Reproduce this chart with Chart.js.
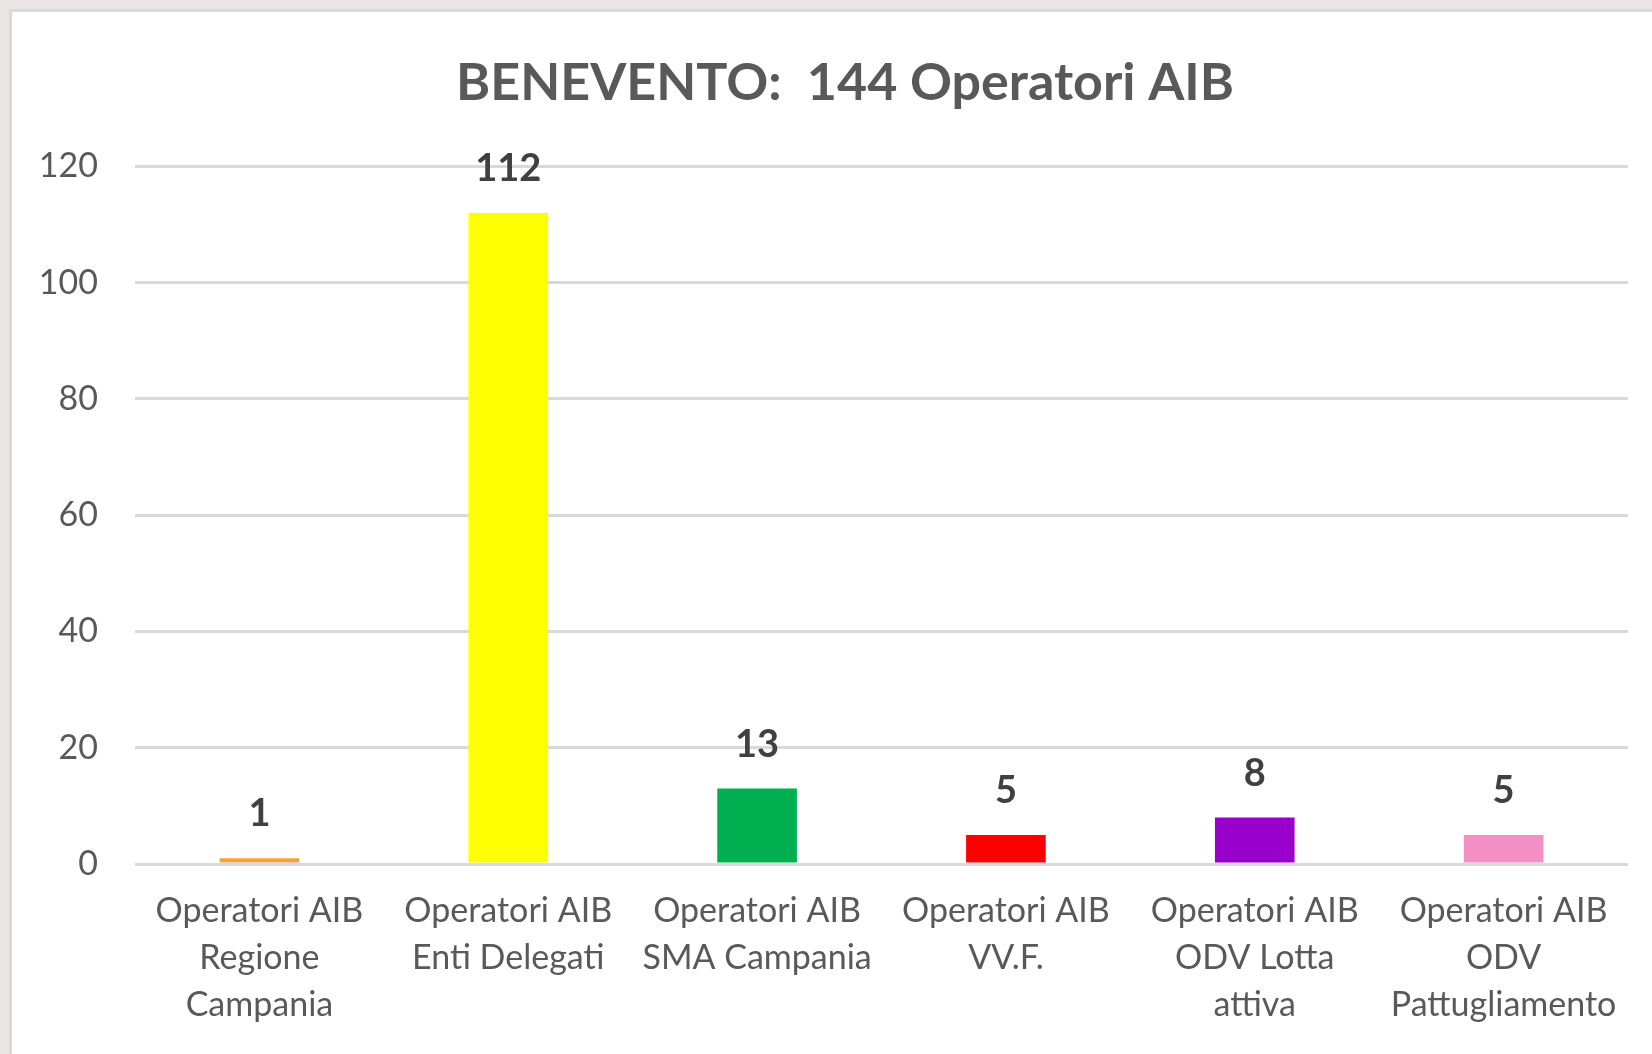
<!DOCTYPE html>
<html>
<head>
<meta charset="utf-8">
<script src="https://cdn.jsdelivr.net/npm/chart.js@4"></script>
<style>
  html, body { margin: 0; padding: 0; overflow: hidden; }
  body { width: 1652px; height: 1054px; background: #ece5e5; position: relative; }
  .frame {
    position: absolute; left: 9px; top: 9px; width: 1660px; height: 1060px;
    background: #fff; border: 3px solid #d9d9d9; box-sizing: border-box;
  }
  .wrap { position: absolute; left: 0; top: 0; width: 1652px; height: 1054px; }
</style>
</head>
<body>
<div class="frame"></div>
<div class="wrap"><canvas id="myChart" width="1652" height="1054"></canvas></div>
<script>
// chart data
const categories = [
  ["Operatori AIB", "Regione", "Campania"],
  ["Operatori AIB", "Enti Delegati"],
  ["Operatori AIB", "SMA Campania"],
  ["Operatori AIB", "VV.F."],
  ["Operatori AIB", "ODV Lotta", "attiva"],
  ["Operatori AIB", "ODV", "Pattugliamento"]
];
const operatori = [1, 112, 13, 5, 8, 5];
const barColors = ["#F5A33E", "#FFFF00", "#00B050", "#FF0000", "#9900CC", "#F48FC4"];
const yTicks = [0, 20, 40, 60, 80, 100, 120];

const fontFamily = "Lato, 'Open Sans', sans-serif";

// value labels above bars
const valueLabels = {
  id: "valueLabels",
  afterDatasetsDraw(chart) {
    const ctx = chart.ctx;
    const meta = chart.getDatasetMeta(0);
    ctx.save();
    ctx.font = "bold 38px " + fontFamily;
    ctx.fillStyle = "#404040";
    ctx.textAlign = "center";
    ctx.textBaseline = "middle";
    meta.data.forEach((bar, i) => {
      ctx.fillText(chart.data.datasets[0].data[i], bar.x, bar.y - 44);
    });
    ctx.restore();
  }
};

// title is centred a bit to the right, like the original
const shiftTitle = {
  id: "shiftTitle",
  afterLayout(chart) {
    const t = chart.titleBlock;
    if (!t) return;
    t.left = 62;
    t.width = t.right - t.left;
  }
};

const ctx = document.getElementById("myChart").getContext("2d");
const myChart = new Chart(ctx, {
  type: "bar",
  data: {
    labels: categories,
    datasets: [
      {
        data: operatori,
        backgroundColor: barColors,
        borderWidth: 0,
        categoryPercentage: 1,
        barPercentage: 0.32,
      },
    ],
  },
  options: {
    responsive: false,
    animation: false,
    layout: { padding: { left: 10, right: 24, top: 0, bottom: 0 } },
    plugins: {
      legend: { display: false },
      tooltip: { enabled: false },
      title: {
        display: true,
        text: "BENEVENTO:  144 Operatori AIB",
        color: "#595959",
        font: { family: fontFamily, size: 52, weight: "bold", lineHeight: 1.2 },
        padding: { top: 52, bottom: 52 },
      },
    },
    scales: {
      x: {
        grid: { display: false, drawTicks: false },
        border: { display: false },
        ticks: {
          color: "#595959",
          padding: 23,
          maxRotation: 0,
          autoSkip: false,
          font: { family: fontFamily, size: 34, lineHeight: 1.39 },
        },
        afterFit: (scale) => { scale.height = 190; },
      },
      y: {
        min: 0,
        max: 120,
        afterBuildTicks: (scale) => { scale.ticks = yTicks.map((v) => ({ value: v })); },
        grid: { color: "#d9d9d9", lineWidth: 3, drawTicks: false },
        border: { display: false },
        ticks: {
          color: "#595959",
          padding: 37,
          font: { family: fontFamily, size: 34 },
        },
        afterFit: (scale) => { scale.width = 125; },
      },
    },
  },
  plugins: [valueLabels, shiftTitle],
});
</script>
</body>
</html>
